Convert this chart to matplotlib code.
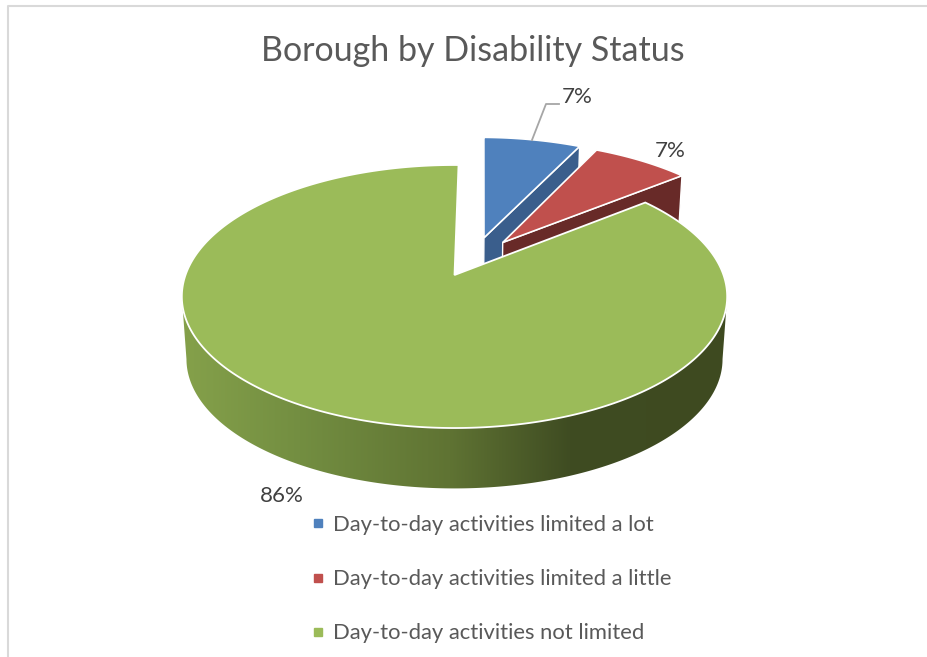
import numpy as np
import matplotlib
matplotlib.use("Agg")
import matplotlib.pyplot as plt
from matplotlib.colors import to_rgb
from matplotlib.lines import Line2D
from matplotlib.patches import Polygon

plt.rcParams["font.family"] = ["Lato", "DejaVu Sans"]

# Data
categories = ["Day-to-day activities limited a lot",
              "Day-to-day activities limited a little",
              "Day-to-day activities not limited"]
percentages = [7, 7, 86]
title_text = "Borough by Disability Status"

# Styling
top_colors = ["#4f81bd", "#c0504d", "#9bbb59"]
wall_colors = ["#3a5e8c", "#682a28", "#5f7333"]
explode = [(0.115, 0.305), (0.187, 0.265), (0.0, 0.0)]
label_xy = [(577, 97), (670, 151), (282, 496)]
label_color = "#404040"
text_color = "#595959"
frame_color = "#d9d9d9"

# Projection of the tilted disc: perspective compresses the far side
CX, CY = 454.5, 275.0
RX, RY = 269.0, 128.0
PERSPECTIVE = 0.1635
DEPTH = 63.0
BASE_SCALE = 0.983
FIRST_ANGLE = 1.0


def project(u, v, scale=1.0, drop=0.0):
    w = 1.0 + PERSPECTIVE * np.asarray(v)
    return CX + scale * RX * np.asarray(u) / w, CY + drop - scale * RY * np.asarray(v) / w


def top_outline(start, end, offset, n=200):
    theta = np.radians(np.linspace(start, end, n))
    u = np.r_[offset[0], offset[0] + np.sin(theta)]
    v = np.r_[offset[1], offset[1] + np.cos(theta)]
    return np.column_stack(project(u, v))


def wall_quad(p_a, p_b, scale=BASE_SCALE, drop=DEPTH):
    ua, va = p_a
    ub, vb = p_b
    xa, ya = project(ua, va)
    xb, yb = project(ub, vb)
    xc, yc = project(ub, vb, scale, drop)
    xd, yd = project(ua, va, scale, drop)
    return [(xa, ya), (xb, yb), (xc, yc), (xd, yd)]


fig = plt.figure(figsize=(9.28, 6.57), dpi=100, facecolor="white")
ax = fig.add_axes([0, 0, 1, 1])

# Chart frame
ax.add_line(Line2D([8, 8, 928], [657, 6, 6], color=frame_color, lw=1.5))

edges = FIRST_ANGLE + np.r_[0, np.cumsum(percentages)] * 3.6

# Exploded slices at the back: radial wall first, then the top face
for i in range(2):
    off = explode[i]
    end = np.radians(edges[i + 1])
    tip = (off[0] + np.sin(end), off[1] + np.cos(end))
    ax.add_patch(Polygon(wall_quad(off, tip), closed=True, fc=wall_colors[i],
                         ec="white", lw=1.0, zorder=2 + i))
    ax.add_patch(Polygon(top_outline(edges[i], edges[i + 1], off), closed=True,
                         fc=top_colors[i], ec="white", lw=1.2, zorder=2 + i))

# Large slice: outer wall filled with a horizontal shading gradient
shade_x = [187, 300, 450, 570, 722]
shade_rgb = np.array([to_rgb(c) for c in ["#84a04a", "#738e41", "#5f7333", "#3f4c22", "#3e4a20"]])
grid_x = np.linspace(170, 740, 570)
gradient = np.stack([np.interp(grid_x, shade_x, shade_rgb[:, k]) for k in range(3)], axis=1)[None, :, :]

# The visible wall runs between the disc's horizontal extremes
sweep = np.radians(np.linspace(60, 300, 1200))
sweep_x, _ = project(np.sin(sweep), np.cos(sweep))
front = sweep[np.argmax(sweep_x):np.argmin(sweep_x) + 1]
top_x, top_y = project(np.sin(front), np.cos(front))
low_x, low_y = project(np.sin(front), np.cos(front), BASE_SCALE, DEPTH)
wall_outline = np.column_stack([np.r_[top_x, low_x[::-1]], np.r_[top_y, low_y[::-1]]])
wall_patch = Polygon(wall_outline, closed=True, fc="none", ec="none", zorder=5)
ax.add_patch(wall_patch)
wall_image = ax.imshow(gradient, extent=[170, 740, 510, 250], aspect="auto",
                       interpolation="bilinear", zorder=5)
wall_image.set_clip_path(wall_patch)

# Large slice: top face
ax.add_patch(Polygon(top_outline(edges[2], edges[3], explode[2], 500), closed=True,
                     fc=top_colors[2], ec="white", lw=1.3, zorder=6))

# Value labels
for pct, (lx, ly) in zip(percentages, label_xy):
    ax.text(lx, ly, f"{pct}%", fontsize=16, color=label_color, ha="center", va="center", zorder=8)

# Leader line for the first label
ax.add_line(Line2D([532, 546, 559], [140, 104, 104], color="#a6a6a6", lw=1.3, zorder=7))

ax.text(473, 51, title_text, fontsize=24.5, color=text_color, ha="center", va="center")

# Legend
handles = [Line2D([], [], ls="none", marker="s", ms=6, mfc=c, mec=c) for c in top_colors]
ax.legend(handles, categories, loc="upper left", bbox_to_anchor=(307.5, 515),
          bbox_transform=ax.transData, frameon=False, fontsize=15.8, labelcolor=text_color,
          labelspacing=1.56, handlelength=1.0, handletextpad=0.17, borderpad=0, borderaxespad=0)

ax.set_xlim(0, 928)
ax.set_ylim(657, 0)
ax.axis("off")

fig.savefig("out.png", dpi=100, facecolor="white")
